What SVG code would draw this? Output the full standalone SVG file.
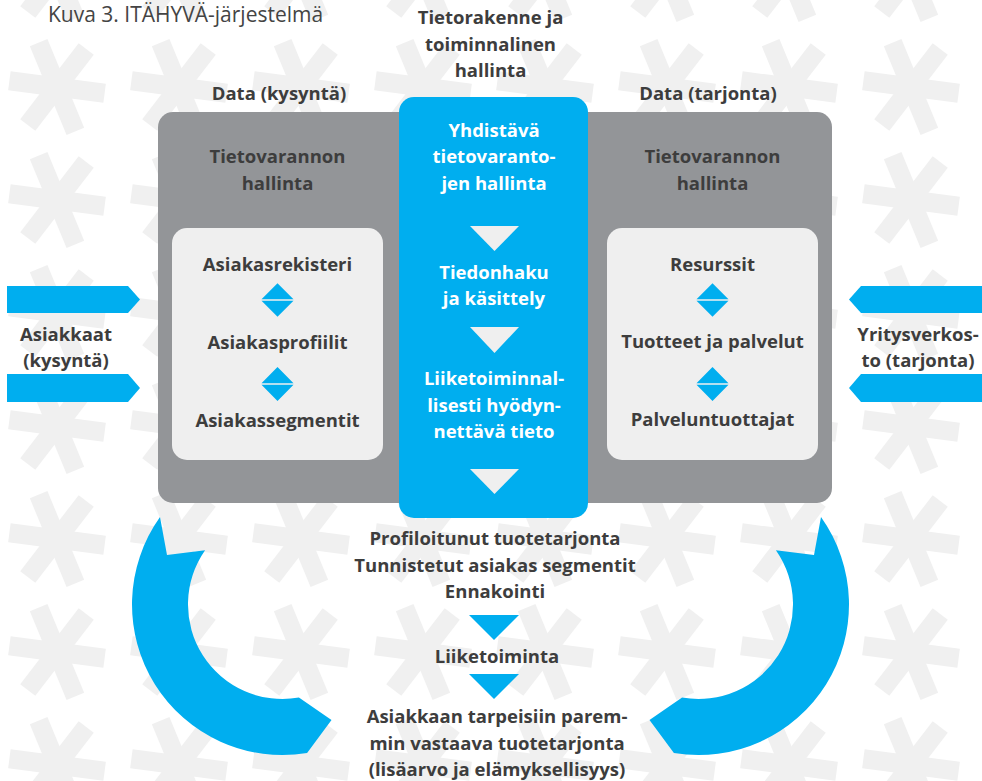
<svg xmlns="http://www.w3.org/2000/svg" xmlns:xlink="http://www.w3.org/1999/xlink" width="982" height="781" viewBox="0 0 982 781">
<defs>
<style>
.t{font-family:"Open Sans","DejaVu Sans",sans-serif;font-weight:700;font-size:18.5px;fill:#3d3d3d;text-anchor:middle}
.w{fill:#ffffff}
.title{font-family:"Open Sans","DejaVu Sans",sans-serif;font-weight:400;font-size:21px;fill:#444444}
.blue{fill:#00aeef}
.lt{fill:#efefef}
.grey{fill:#939598}
</style>
<g id="ast" fill="#f0f0f0">
<rect x="-48" y="-9.5" width="96" height="19" transform="rotate(7.5)"/>
<rect x="-48" y="-9.5" width="96" height="19" transform="rotate(67.5)"/>
<rect x="-48" y="-9.5" width="96" height="19" transform="rotate(127.5)"/>
</g>
</defs>
<rect width="982" height="781" fill="#ffffff"/>
<g id="background">
<use href="#ast" x="-65" y="-26"/><use href="#ast" x="57" y="-26"/><use href="#ast" x="179" y="-26"/><use href="#ast" x="301" y="-26"/><use href="#ast" x="423" y="-26"/><use href="#ast" x="545" y="-26"/><use href="#ast" x="667" y="-26"/><use href="#ast" x="789" y="-26"/><use href="#ast" x="911" y="-26"/><use href="#ast" x="1033" y="-26"/>
<use href="#ast" x="-65" y="87"/><use href="#ast" x="57" y="87"/><use href="#ast" x="179" y="87"/><use href="#ast" x="301" y="87"/><use href="#ast" x="423" y="87"/><use href="#ast" x="545" y="87"/><use href="#ast" x="667" y="87"/><use href="#ast" x="789" y="87"/><use href="#ast" x="911" y="87"/><use href="#ast" x="1033" y="87"/>
<use href="#ast" x="-65" y="200"/><use href="#ast" x="57" y="200"/><use href="#ast" x="179" y="200"/><use href="#ast" x="301" y="200"/><use href="#ast" x="423" y="200"/><use href="#ast" x="545" y="200"/><use href="#ast" x="667" y="200"/><use href="#ast" x="789" y="200"/><use href="#ast" x="911" y="200"/><use href="#ast" x="1033" y="200"/>
<use href="#ast" x="-65" y="313"/><use href="#ast" x="57" y="313"/><use href="#ast" x="179" y="313"/><use href="#ast" x="301" y="313"/><use href="#ast" x="423" y="313"/><use href="#ast" x="545" y="313"/><use href="#ast" x="667" y="313"/><use href="#ast" x="789" y="313"/><use href="#ast" x="911" y="313"/><use href="#ast" x="1033" y="313"/>
<use href="#ast" x="-65" y="426"/><use href="#ast" x="57" y="426"/><use href="#ast" x="179" y="426"/><use href="#ast" x="301" y="426"/><use href="#ast" x="423" y="426"/><use href="#ast" x="545" y="426"/><use href="#ast" x="667" y="426"/><use href="#ast" x="789" y="426"/><use href="#ast" x="911" y="426"/><use href="#ast" x="1033" y="426"/>
<use href="#ast" x="-65" y="539"/><use href="#ast" x="57" y="539"/><use href="#ast" x="179" y="539"/><use href="#ast" x="301" y="539"/><use href="#ast" x="423" y="539"/><use href="#ast" x="545" y="539"/><use href="#ast" x="667" y="539"/><use href="#ast" x="789" y="539"/><use href="#ast" x="911" y="539"/><use href="#ast" x="1033" y="539"/>
<use href="#ast" x="-65" y="652"/><use href="#ast" x="57" y="652"/><use href="#ast" x="179" y="652"/><use href="#ast" x="301" y="652"/><use href="#ast" x="423" y="652"/><use href="#ast" x="545" y="652"/><use href="#ast" x="667" y="652"/><use href="#ast" x="789" y="652"/><use href="#ast" x="911" y="652"/><use href="#ast" x="1033" y="652"/>
<use href="#ast" x="-65" y="765"/><use href="#ast" x="57" y="765"/><use href="#ast" x="179" y="765"/><use href="#ast" x="301" y="765"/><use href="#ast" x="423" y="765"/><use href="#ast" x="545" y="765"/><use href="#ast" x="667" y="765"/><use href="#ast" x="789" y="765"/><use href="#ast" x="911" y="765"/><use href="#ast" x="1033" y="765"/>
</g>
<text class="title" x="48" y="22">Kuva 3. ITÄHYVÄ-järjestelmä</text>
<g id="header-center">
<text class="t" x="490.5" y="24">Tietorakenne ja</text>
<text class="t" x="490.5" y="51">toiminnalinen</text>
<text class="t" x="490.5" y="77">hallinta</text>
</g>
<g id="header-left"><text class="t" x="279" y="100">Data (kysyntä)</text></g>
<g id="header-right"><text class="t" x="708" y="100">Data (tarjonta)</text></g>
<g id="grey-panel">
<rect class="grey" x="158" y="112" width="674" height="391" rx="15"/>
<text class="t" x="277.5" y="163">Tietovarannon</text>
<text class="t" x="277.5" y="190">hallinta</text>
<text class="t" x="712.5" y="163">Tietovarannon</text>
<text class="t" x="712.5" y="190">hallinta</text>
</g>
<g id="demand-box">
<rect class="lt" x="172" y="228" width="211" height="232" rx="15"/>
<text class="t" x="277.5" y="271">Asiakasrekisteri</text>
<text class="t" x="277.5" y="349">Asiakasprofiilit</text>
<text class="t" x="277.5" y="427">Asiakassegmentit</text>
<path class="blue" d="M277.5,283.3 L293.5,299.3 L261.5,299.3 Z M261.5,300.8 L293.5,300.8 L277.5,316.8 Z"/>
<path class="blue" d="M277.5,367 L293.5,383.3 L261.5,383.3 Z M261.5,384.8 L293.5,384.8 L277.5,401 Z"/>
</g>
<g id="supply-box">
<rect class="lt" x="607" y="228" width="211" height="232" rx="15"/>
<text class="t" x="712.5" y="271">Resurssit</text>
<text class="t" x="712.5" y="348">Tuotteet ja palvelut</text>
<text class="t" x="712.5" y="426">Palveluntuottajat</text>
<path class="blue" d="M712.5,283.3 L728.5,299.3 L696.5,299.3 Z M696.5,300.8 L728.5,300.8 L712.5,316.8 Z"/>
<path class="blue" d="M712.5,367 L728.5,383.3 L696.5,383.3 Z M696.5,384.8 L728.5,384.8 L712.5,401 Z"/>
</g>
<g id="center-column">
<rect class="blue" x="399" y="97" width="189" height="421" rx="15"/>
<text class="t w" x="494" y="137">Yhdistävä</text>
<text class="t w" x="494" y="163">tietovaranto-</text>
<text class="t w" x="494" y="190">jen hallinta</text>
<path class="lt" d="M470,226 L519,226 L494.5,251 Z"/>
<text class="t w" x="494" y="279">Tiedonhaku</text>
<text class="t w" x="494" y="305">ja käsittely</text>
<path class="lt" d="M470,327 L519,327 L494.5,353 Z"/>
<text class="t w" x="494" y="385">Liiketoiminnal-</text>
<text class="t w" x="494" y="412">lisesti hyödyn-</text>
<text class="t w" x="494" y="438">nettävä tieto</text>
<path class="lt" d="M470,469 L519,469 L494.5,494 Z"/>
</g>
<g id="customers">
<text class="t" x="66" y="341">Asiakkaat</text>
<text class="t" x="66" y="367">(kysyntä)</text>
</g>
<g id="network">
<text class="t" x="918" y="341">Yritysverkos-</text>
<text class="t" x="918" y="367">to (tarjonta)</text>
</g>
<g id="outputs">
<text class="t" x="495" y="545">Profiloitunut tuotetarjonta</text>
<text class="t" x="495" y="572">Tunnistetut asiakas segmentit</text>
<text class="t" x="495" y="598">Ennakointi</text>
</g>
<g id="business"><text class="t" x="497" y="663">Liiketoiminta</text></g>
<g id="result">
<text class="t" x="497" y="723">Asiakkaan tarpeisiin parem-</text>
<text class="t" x="497" y="749.5">min vastaava tuotetarjonta</text>
<text class="t" x="497" y="775.5">(lisäarvo ja elämyksellisyys)</text>
</g>
<g id="connectors">
<path class="blue" d="M7,286 L128,286 L140,299.5 L128,313 L7,313 Z"/>
<path class="blue" d="M7,374 L128,374 L140,388 L128,402 L7,402 Z"/>
<path class="blue" d="M982,286 L861,286 L849,299.5 L861,313 L982,313 Z"/>
<path class="blue" d="M982,374 L861,374 L849,388 L861,402 L982,402 Z"/>
<path class="blue" d="M469,615 L519,615 L494,640 Z"/>
<path class="blue" d="M469,674 L519,674 L494,699 Z"/>
<path class="blue" d="M160,517.1 A150.5,150.5 0 0 0 307.1,753 L331.5,720 L298.9,697.6 A94.5,94.5 0 0 1 205.1,550.3 L167,555 Z"/>
<path class="blue" d="M821,517.1 A150.5,150.5 0 0 1 673.9,753 L649.5,720 L682.1,697.6 A94.5,94.5 0 0 0 775.9,550.3 L814,555 Z"/>
</g>
</svg>
